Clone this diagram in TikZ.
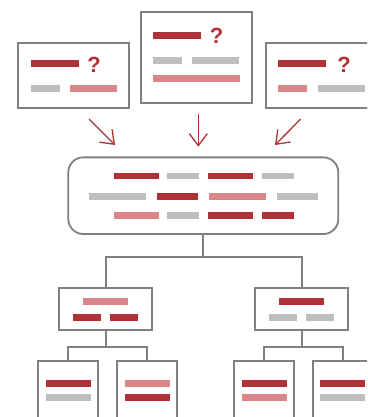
\documentclass[tikz,border=0pt]{standalone}
\usepackage{fontspec}
\usepackage{xcolor}
\usepackage{tikz}
\usetikzlibrary{arrows.meta}
\newfontfamily\qfont{Liberation Sans}
\definecolor{bardark}{RGB}{174,50,56}
\definecolor{barpink}{RGB}{217,134,138}
\definecolor{bargray}{RGB}{190,190,190}
\definecolor{boxgray}{RGB}{126,129,128}

\begin{document}
\begin{tikzpicture}[x=1pt,y=-1pt,
	box/.style={draw=boxgray, line width=1.8pt, inner sep=0pt},
	link/.style={draw=boxgray, line width=1.8pt},
	flow/.style={draw=bardark, line width=1.3pt, -{Straight Barb[length=12pt,width=18pt]}},
	qmark/.style={text=bardark, font=\qfont\bfseries\fontsize{22}{22}\selectfont, inner sep=0pt, anchor=base}]
	\useasboundingbox (0,0) rectangle (367,417);
	\clip (0,0) rectangle (367,417);
	
	% question boxes
	\node[box, minimum width=111pt, minimum height=64.4pt] (ql) at (73.8,75.5) {};
	\node[box, minimum width=111pt, minimum height=91pt] (qc) at (196.2,57.2) {};
	\node[box, minimum width=111pt, minimum height=64.4pt] (qr) at (321.5,75.5) {};
	
	\node[qmark] (ql-q) at (94,73) {?};
	\node[qmark] (qc-q) at (216.5,44) {?};
	\node[qmark] (qr-q) at (344,73) {?};
	
	% arrows into the merged box
	\coordinate (fl-a) at (89,119);
	\coordinate (fl-b) at (115,145);
	\coordinate (fc-a) at (198.3,114);
	\coordinate (fc-b) at (198.3,146.7);
	\coordinate (fr-a) at (300.7,119);
	\coordinate (fr-b) at (275,145);
	\draw[flow] (fl-a) -- (fl-b);
	\draw[flow] (fc-a) -- (fc-b);
	\draw[flow] (fr-a) -- (fr-b);
	
	% merged box and tree
	\node[box, rounded corners=15pt, minimum width=270pt, minimum height=76.7pt] (root) at (203.3,195.7) {};
	\node[box, minimum width=93.3pt, minimum height=41.7pt] (mL) at (105.7,308.8) {};
	\node[box, minimum width=93.3pt, minimum height=41.7pt] (mR) at (301.7,308.8) {};
	\node[box, minimum width=59.7pt, minimum height=80pt] (LL) at (67.8,400.7) {};
	\node[box, minimum width=59.7pt, minimum height=80pt] (LR) at (146.8,400.7) {};
	\node[box, minimum width=59.7pt, minimum height=80pt] (RL) at (263.8,400.7) {};
	\node[box, minimum width=59.7pt, minimum height=80pt] (RR) at (343,400.7) {};
	
	\coordinate (j0) at (203.3,257.3);
	\coordinate (jL) at (105.7,346.7);
	\coordinate (jR) at (301.7,346.7);
	\draw[link] (root.south) -- (j0);
	\draw[link] (mL.north) |- (j0) -| (mR.north);
	\draw[link] (mL.south) -- (jL);
	\draw[link] (LL.north) |- (jL) -| (LR.north);
	\draw[link] (mR.south) -- (jR);
	\draw[link] (RL.north) |- (jR) -| (RR.north);
	
	% bars in the question boxes
	\fill[bardark] (31,60) rectangle (79,66.7);
	\fill[bargray] (31,85) rectangle (60,91.7);
	\fill[barpink] (70,85) rectangle (117,91.7);
	\fill[bardark] (153,32) rectangle (201,38.7);
	\fill[bargray] (153,57) rectangle (182,63.7);
	\fill[bargray] (192,57) rectangle (239,63.7);
	\fill[barpink] (153,75) rectangle (240,81.7);
	\fill[bardark] (278,60) rectangle (326,66.7);
	\fill[barpink] (278,85) rectangle (307,91.7);
	\fill[bargray] (318,85) rectangle (365,91.7);
	
	% bars in the merged box
	\fill[bardark] (114,172.7) rectangle (159,179.3);
	\fill[bargray] (167,172.7) rectangle (199,179.3);
	\fill[bardark] (208,172.7) rectangle (253,179.3);
	\fill[bargray] (262,172.7) rectangle (294,179.3);
	\fill[bargray] (89,192.7) rectangle (146,199.5);
	\fill[bardark] (157,192.7) rectangle (198,199.5);
	\fill[barpink] (209,192.7) rectangle (266,199.5);
	\fill[bargray] (277,192.7) rectangle (318,199.5);
	\fill[barpink] (114,212) rectangle (159,218.7);
	\fill[bargray] (167,212) rectangle (199,218.7);
	\fill[bardark] (208,212) rectangle (253,218.7);
	\fill[bardark] (262,212) rectangle (294,218.7);
	
	% bars in the tree
	\fill[barpink] (83,298) rectangle (128,304.7);
	\fill[bardark] (73,314) rectangle (101,320.7);
	\fill[bardark] (110,314) rectangle (138,320.7);
	\fill[bardark] (279,298) rectangle (324,304.7);
	\fill[bargray] (269,314) rectangle (297,320.7);
	\fill[bargray] (306,314) rectangle (334,320.7);
	\fill[bardark] (46,380) rectangle (91,386.7);
	\fill[bargray] (46,394) rectangle (91,400.7);
	\fill[barpink] (125,380) rectangle (170,386.7);
	\fill[bardark] (125,394) rectangle (170,400.7);
	\fill[bardark] (242,380) rectangle (287,386.7);
	\fill[barpink] (242,394) rectangle (287,400.7);
	\fill[bardark] (320,380) rectangle (365,386.7);
	\fill[bargray] (320,394) rectangle (365,400.7);
\end{tikzpicture}
\end{document}
